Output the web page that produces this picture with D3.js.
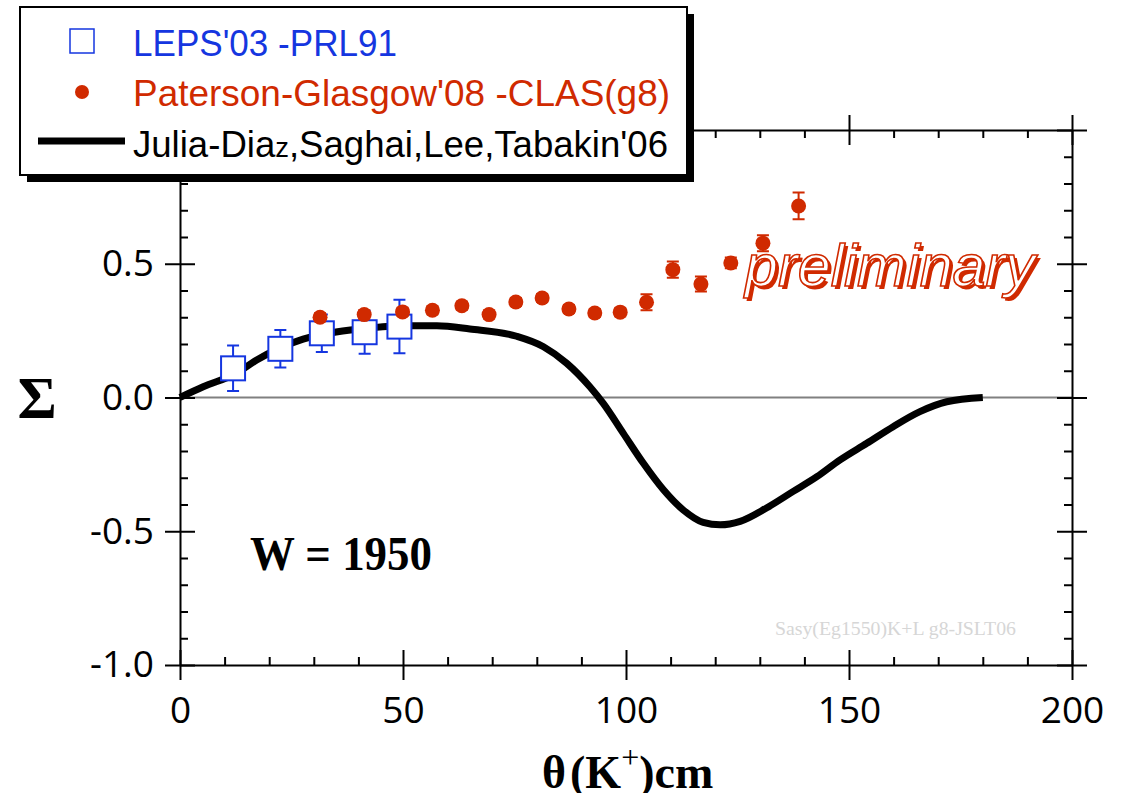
<!DOCTYPE html>
<html>
<head>
<meta charset="utf-8">
<script src="https://cdn.jsdelivr.net/npm/d3@7"></script>
<style>
  body { margin: 0; background: #fff; }
</style>
</head>
<body>
<div id="chart"></div>
<script>
// LEPS'03 data (open squares)
const lepsAngle = [11.9, 22.5, 31.8, 41.4, 49.2];
const lepsSigma = [0.109, 0.182, 0.240, 0.244, 0.265];
const lepsErr = [0.085, 0.070, 0.070, 0.080, 0.100];

// CLAS g8 preliminary data (filled circles)
const clasAngle = [31.4, 41.3, 49.9, 56.6, 63.2, 69.3, 75.3, 81.2, 87.2, 93.0, 98.7, 104.6, 110.5, 116.8, 123.5, 130.7, 138.7];
const clasSigma = [0.300, 0.310, 0.320, 0.326, 0.343, 0.310, 0.357, 0.372, 0.331, 0.316, 0.319, 0.356, 0.478, 0.424, 0.503, 0.577, 0.716];
const clasErr = [0.015, 0.015, 0.015, 0.015, 0.015, 0.015, 0.015, 0.015, 0.015, 0.015, 0.015, 0.030, 0.030, 0.028, 0.020, 0.030, 0.050];

// Julia-Diaz et al. model curve
const modelAngle = [0, 5.2, 12.7, 17.2, 22.4, 27.6, 35.0, 42.6, 50.0, 57.6, 65.0, 75.5, 81.5, 86.7, 91.9, 94.9, 99.4, 103.9, 108.4, 112.8, 117.3, 121.1, 125.6, 131.5, 137.5, 142.8, 148.0, 154.0, 159.9, 165.9, 171.9, 180];
const modelSigma = [0, 0.040, 0.091, 0.140, 0.185, 0.218, 0.245, 0.260, 0.268, 0.268, 0.256, 0.229, 0.190, 0.128, 0.040, -0.022, -0.134, -0.246, -0.345, -0.420, -0.467, -0.476, -0.463, -0.413, -0.351, -0.296, -0.233, -0.171, -0.109, -0.053, -0.016, 0.0];

const xMajorTicks = [0, 50, 100, 150, 200];
const yMajorTicks = [-1.0, -0.5, 0.0, 0.5, 1.0];
const yTickLabels = ["-1.0", "-0.5", "0.0", "0.5", ""];

const legendLabels = ["LEPS'03 -PRL91", "Paterson-Glasgow'08 -CLAS(g8)", "Julia-Dia", "z", ",Saghai,Lee,Tabakin'06"];

const blue = "#1536e0";
const red = "#d02a00";

const W = 1124, H = 793;
const svg = d3.select("#chart").append("svg")
    .attr("width", W)
    .attr("height", H)
    .style("display", "block");

const x = d3.scaleLinear().domain([0, 200]).range([180, 1072]);
const y = d3.scaleLinear().domain([-1, 1]).range([665, 130]);

const xMinor = d3.range(0, 201, 10).filter(v => !xMajorTicks.includes(v));
const yMinor = d3.range(-10, 11).map(v => v / 10).filter(v => !yMajorTicks.some(m => Math.abs(m - v) < 1e-9));

// frame axes: major ticks cross the line, minor ticks point inward
function frameAxis(axisFn, scale, transform, withLabels) {
    const isX = scale === x;
    const labelFmt = isX ? d3.format("d") : (d => yTickLabels[yMajorTicks.indexOf(d)]);
    const g = svg.append("g").attr("transform", transform);
    const outer = g.append("g").call(axisFn(scale)
        .tickValues(isX ? xMajorTicks : yMajorTicks)
        .tickSize(15)
        .tickSizeOuter(0)
        .tickPadding(isX ? 17 : 11)
        .tickFormat(withLabels ? labelFmt : ""));
    g.append("g").call(axisFn(scale)
        .tickValues(isX ? xMajorTicks : yMajorTicks)
        .tickSize(-15).tickSizeOuter(0).tickFormat(""))
        .select(".domain").remove();
    g.append("g").call(axisFn(scale)
        .tickValues(isX ? xMinor : yMinor)
        .tickSize(-8).tickSizeOuter(0).tickFormat(""))
        .select(".domain").remove();
    g.selectAll("path, line").attr("stroke", "#000").attr("stroke-width", 2);
    outer.selectAll("text")
        .attr("fill", "#000")
        .style("font-family", "'Open Sans', sans-serif")
        .style("font-size", "37px");
    return g;
}

// zero reference line
svg.append("line")
    .attr("x1", x(0)).attr("x2", x(200))
    .attr("y1", y(0)).attr("y2", y(0))
    .attr("stroke", "#808080")
    .attr("stroke-width", 2);

frameAxis(d3.axisBottom, x, `translate(0,${y(-1)})`, true);
frameAxis(d3.axisTop, x, `translate(0,${y(1)})`, false);
frameAxis(d3.axisLeft, y, `translate(${x(0)},0)`, true);
frameAxis(d3.axisRight, y, `translate(${x(200)},0)`, false);

// watermark
svg.append("text")
    .attr("x", 775).attr("y", 635)
    .attr("textLength", 241)
    .attr("lengthAdjust", "spacingAndGlyphs")
    .style("font-family", "'Liberation Serif', serif")
    .style("font-size", "18px")
    .attr("fill", "#d6d6d6")
    .text("Sasy(Eg1550)K+L g8-JSLT06");

// model curve
const modelData = modelAngle.map((a, i) => ({ a, s: modelSigma[i] }));
svg.append("path")
    .datum(modelData)
    .attr("d", d3.line().x(d => x(d.a)).y(d => y(d.s)).curve(d3.curveMonotoneX))
    .attr("fill", "none")
    .attr("stroke", "#000")
    .attr("stroke-width", 7)
    .attr("stroke-linecap", "butt");

// LEPS squares with error bars
const lepsData = lepsAngle.map((a, i) => ({ a, s: lepsSigma[i], e: lepsErr[i] }));
const leps = svg.append("g");
leps.selectAll(".leps-err")
    .data(lepsData).enter().append("path")
    .attr("d", d => `M${x(d.a)},${y(d.s - d.e)}V${y(d.s + d.e)}M${x(d.a) - 6},${y(d.s - d.e)}h12M${x(d.a) - 6},${y(d.s + d.e)}h12`)
    .attr("stroke", blue).attr("stroke-width", 2).attr("fill", "none");
leps.selectAll(".leps-box")
    .data(lepsData).enter().append("rect")
    .attr("x", d => x(d.a) - 12).attr("y", d => y(d.s) - 12)
    .attr("width", 24).attr("height", 24)
    .attr("fill", "#fff").attr("stroke", blue).attr("stroke-width", 2);

// CLAS filled circles with error bars
const clasData = clasAngle.map((a, i) => ({ a, s: clasSigma[i], e: clasErr[i] }));
const clas = svg.append("g");
clas.selectAll(".clas-err")
    .data(clasData).enter().append("path")
    .attr("d", d => `M${x(d.a)},${y(d.s - d.e)}V${y(d.s + d.e)}M${x(d.a) - 6},${y(d.s - d.e)}h12M${x(d.a) - 6},${y(d.s + d.e)}h12`)
    .attr("stroke", red).attr("stroke-width", 2).attr("fill", "none");
clas.selectAll(".clas-dot")
    .data(clasData).enter().append("circle")
    .attr("cx", d => x(d.a)).attr("cy", d => y(d.s))
    .attr("r", 7.5)
    .attr("fill", red);

// "preliminary" outlined italic text with shadow
const prelim = svg.append("g").attr("transform", "translate(745,286)");
prelim.append("text")
    .attr("x", 3).attr("y", 3)
    .attr("textLength", 290).attr("lengthAdjust", "spacingAndGlyphs")
    .style("font-family", "'Liberation Sans', sans-serif")
    .style("font-style", "italic")
    .style("font-size", "60px")
    .attr("fill", red)
    .text("preliminary");
prelim.append("text")
    .attr("x", 0).attr("y", 0)
    .attr("textLength", 290).attr("lengthAdjust", "spacingAndGlyphs")
    .style("font-family", "'Liberation Sans', sans-serif")
    .style("font-style", "italic")
    .style("font-size", "60px")
    .attr("fill", "#fff")
    .attr("stroke", red)
    .attr("stroke-width", 1.6)
    .text("preliminary");

// W = 1950
svg.append("text")
    .attr("x", 250).attr("y", 570)
    .attr("textLength", 182).attr("lengthAdjust", "spacingAndGlyphs")
    .style("font-family", "'Liberation Serif', serif")
    .style("font-weight", "bold")
    .style("font-size", "48px")
    .attr("fill", "#000")
    .text("W = 1950");

// y axis title
svg.append("text")
    .attr("x", 37).attr("y", 418)
    .attr("text-anchor", "middle")
    .style("font-family", "'Liberation Serif', serif")
    .style("font-weight", "bold")
    .style("font-size", "60px")
    .attr("fill", "#000")
    .text("Σ");

// x axis title
const xt = svg.append("text")
    .attr("x", 542).attr("y", 788)
    .style("font-family", "'Liberation Serif', serif")
    .style("font-weight", "bold")
    .style("font-size", "46px")
    .attr("fill", "#000");
xt.append("tspan").text("θ");
xt.append("tspan").attr("dx", 4).text("(K");
xt.append("tspan").attr("dy", -20).style("font-size", "32px").style("font-weight", "normal").text("+");
xt.append("tspan").attr("dy", 20).text(")cm");

// legend
const legend = svg.append("g");
legend.append("rect")
    .attr("x", 27).attr("y", 14).attr("width", 667).attr("height", 168)
    .attr("fill", "#000");
legend.append("rect")
    .attr("x", 20).attr("y", 7).attr("width", 667).attr("height", 168)
    .attr("fill", "#fff").attr("stroke", "#000").attr("stroke-width", 2);

legend.append("rect")
    .attr("x", 70).attr("y", 29).attr("width", 24).attr("height", 24)
    .attr("fill", "#fff").attr("stroke", blue).attr("stroke-width", 1.5);
legend.append("circle")
    .attr("cx", 82).attr("cy", 92).attr("r", 7)
    .attr("fill", red);
legend.append("line")
    .attr("x1", 38).attr("x2", 125).attr("y1", 141).attr("y2", 141)
    .attr("stroke", "#000").attr("stroke-width", 7);

const legendFont = "'Liberation Sans Narrow', 'Liberation Sans', sans-serif";
legend.append("text")
    .attr("x", 133).attr("y", 56)
    .attr("textLength", 264).attr("lengthAdjust", "spacingAndGlyphs")
    .style("font-family", legendFont).style("font-size", "36px")
    .attr("fill", blue)
    .text(legendLabels[0]);
legend.append("text")
    .attr("x", 133).attr("y", 106)
    .attr("textLength", 537).attr("lengthAdjust", "spacingAndGlyphs")
    .style("font-family", legendFont).style("font-size", "36px")
    .attr("fill", red)
    .text(legendLabels[1]);
const l3 = legend.append("text")
    .attr("x", 133).attr("y", 157)
    .attr("textLength", 535).attr("lengthAdjust", "spacingAndGlyphs")
    .style("font-family", legendFont).style("font-size", "36px")
    .attr("fill", "#000");
l3.append("tspan").text(legendLabels[2]);
l3.append("tspan").style("font-size", "27px").text(legendLabels[3]);
l3.append("tspan").text(legendLabels[4]);
</script>
</body>
</html>
